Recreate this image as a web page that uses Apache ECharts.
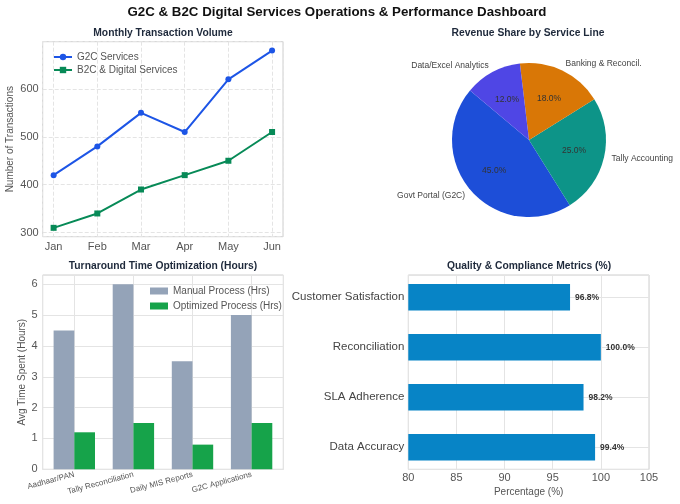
<!DOCTYPE html>
<html>
<head>
<meta charset="utf-8">
<script src="https://cdn.jsdelivr.net/npm/echarts@6/dist/echarts.min.js"></script>
<style>
html, body { margin: 0; padding: 0; background: #fff; }
#main { width: 680px; height: 504px; }
</style>
</head>
<body>
<div id="main"></div>
<script>
// chart data
const months = ["Jan", "Feb", "Mar", "Apr", "May", "Jun"];
const g2cVolume = [420, 480, 550, 510, 620, 680];
const b2cVolume = [310, 340, 390, 420, 450, 510];

const revenueLines = ["Govt Portal (G2C)", "Tally Accounting", "Banking & Reconcil.", "Data/Excel Analytics"];
const revenueShare = [45, 25, 18, 12];
const revenueColors = ["#1d4ed8", "#0d9488", "#d97706", "#4f46e5"];

const tasks = ["Aadhaar/PAN", "Tally Reconciliation", "Daily MIS Reports", "G2C Applications"];
const manualHrs = [4.5, 6, 3.5, 5];
const optimizedHrs = [1.2, 1.5, 0.8, 1.5];

const metrics = ["Data Accuracy", "SLA Adherence", "Reconciliation", "Customer Satisfaction"];
const metricPct = [99.4, 98.2, 100.0, 96.8];

var myChart = echarts.init(document.getElementById("main"), null, { renderer: "canvas" });

const FONT = "Liberation Sans";
const TITLE_COLOR = "#1e293b";
const LABEL_COLOR = "#555";
const FRAME = "#cfcfcf";
const GRIDLINE = "#e4e4e4";

function subTitle(text, x, y) {
	return {
		text: text, left: x, top: y, textAlign: "center", padding: 0,
		textStyle: { fontFamily: FONT, fontSize: 10.3, fontWeight: "bold", color: TITLE_COLOR }
	};
}

// hide labels at the padded ends of the axis
function onlyStep(step, names) {
	return function (v) {
		var k = Math.round(v / step);
		if (Math.abs(v - k * step) > 1e-6) return "";
		return names ? (names[k] || "") : String(v);
	};
}

function hiddenAxis(extra) {
	return Object.assign({
		axisLine: { show: false }, axisTick: { show: false },
		axisLabel: { show: false }, splitLine: { show: false }
	}, extra);
}

var option = {
	animation: false,
	backgroundColor: "#fff",
	textStyle: { fontFamily: FONT },
	title: [
		{
			text: "G2C & B2C Digital Services Operations & Performance Dashboard",
			left: 337, top: 6, textAlign: "center", padding: 0,
			textStyle: { fontFamily: FONT, fontSize: 13.3, fontWeight: "bold", color: "#111" }
		},
		subTitle("Monthly Transaction Volume", 163, 28),
		subTitle("Revenue Share by Service Line", 528, 28),
		subTitle("Turnaround Time Optimization (Hours)", 163, 261),
		subTitle("Quality & Compliance Metrics (%)", 529, 261)
	],
	legend: [
		{
			data: ["G2C Services", "B2C & Digital Services"],
			orient: "vertical", left: 48, top: 47, itemWidth: 18, itemHeight: 8, itemGap: 3,
			textStyle: { fontFamily: FONT, fontSize: 10, color: LABEL_COLOR }
		},
		{
			data: ["Manual Process (Hrs)", "Optimized Process (Hrs)"],
			orient: "vertical", left: 145, top: 281, itemWidth: 18, itemHeight: 7, itemGap: 5,
			icon: "rect",
			textStyle: { fontFamily: FONT, fontSize: 10, color: LABEL_COLOR }
		}
	],
	grid: [
		{ left: 42.7, top: 41.7, width: 240.3, height: 195, show: true, borderColor: FRAME, borderWidth: 1 },
		{ left: 42.7, top: 275, width: 240.6, height: 194.3, show: true, borderColor: FRAME, borderWidth: 1 },
		{ left: 44.75, top: 275, width: 236.4, height: 194.3 },
		{ left: 408.3, top: 275, width: 240.7, height: 194.3, show: true, borderColor: FRAME, borderWidth: 1 },
		{ left: 408.3, top: 272.3, width: 240.7, height: 200 }
	],
	xAxis: [
		{
			gridIndex: 0, type: "value", min: -0.25, max: 5.25,
			axisLine: { show: false }, axisTick: { show: false },
			axisLabel: { formatter: onlyStep(1, months), fontSize: 11, color: LABEL_COLOR, margin: 5 },
			splitLine: { show: true, lineStyle: { color: GRIDLINE, type: "dashed" } }
		},
		hiddenAxis({
			gridIndex: 1, type: "value", min: -0.535, max: 3.535,
			splitLine: { show: true, lineStyle: { color: GRIDLINE } }
		}),
		{
			gridIndex: 2, type: "category", data: tasks,
			axisLine: { show: false }, axisTick: { show: false },
			axisLabel: { rotate: 15, fontSize: 8, color: LABEL_COLOR, margin: 5, interval: 0 }
		},
		{
			gridIndex: 3, type: "value", min: 80, max: 105,
			axisLine: { show: false }, axisTick: { show: false },
			axisLabel: { fontSize: 11, color: LABEL_COLOR, margin: 3 },
			splitLine: { show: true, lineStyle: { color: GRIDLINE } },
			name: "Percentage (%)", nameLocation: "middle", nameGap: 18,
			nameTextStyle: { fontFamily: FONT, fontSize: 10, color: LABEL_COLOR }
		},
		hiddenAxis({ gridIndex: 4, type: "value", min: 80, max: 105 })
	],
	yAxis: [
		{
			gridIndex: 0, type: "value", min: 291.5, max: 698.5,
			axisLine: { show: false }, axisTick: { show: false },
			axisLabel: { formatter: onlyStep(100), fontSize: 11, color: LABEL_COLOR, margin: 4 },
			splitLine: { show: true, lineStyle: { color: GRIDLINE, type: "dashed" } },
			name: "Number of Transactions", nameLocation: "middle", nameGap: 27,
			nameTextStyle: { fontFamily: FONT, fontSize: 10, color: LABEL_COLOR }
		},
		{
			gridIndex: 1, type: "value", min: 0, max: 6.3,
			axisLine: { show: false }, axisTick: { show: false },
			axisLabel: { formatter: onlyStep(1), fontSize: 11, color: LABEL_COLOR, margin: 5 },
			splitLine: { show: true, lineStyle: { color: GRIDLINE } },
			name: "Avg Time Spent (Hours)", nameLocation: "middle", nameGap: 14,
			nameTextStyle: { fontFamily: FONT, fontSize: 10, color: LABEL_COLOR }
		},
		hiddenAxis({ gridIndex: 2, type: "value", min: 0, max: 6.3 }),
		hiddenAxis({
			gridIndex: 3, type: "value", min: -0.44, max: 3.44,
			splitLine: { show: true, lineStyle: { color: GRIDLINE } }
		}),
		{
			gridIndex: 4, type: "category", data: metrics,
			axisLine: { show: false }, axisTick: { show: false },
			axisLabel: { fontSize: 11.5, color: "#444", margin: 4 }
		}
	],
	series: [
		{
			name: "G2C Services", type: "line", xAxisIndex: 0, yAxisIndex: 0,
			data: g2cVolume.map(function (v, i) { return [i, v]; }),
			symbol: "circle", symbolSize: 6,
			lineStyle: { width: 2, color: "#1d55e6" }, itemStyle: { color: "#1d55e6" }
		},
		{
			name: "B2C & Digital Services", type: "line", xAxisIndex: 0, yAxisIndex: 0,
			data: b2cVolume.map(function (v, i) { return [i, v]; }),
			symbol: "rect", symbolSize: 6,
			lineStyle: { width: 2, color: "#078a57" }, itemStyle: { color: "#078a57" }
		},
		{
			type: "pie", center: [529, 140], radius: 77, startAngle: 140, clockwise: false,
			avoidLabelOverlap: false, silent: true,
			data: revenueLines.map(function (n, i) {
				return { name: n, value: revenueShare[i], itemStyle: { color: revenueColors[i] } };
			}),
			itemStyle: { borderWidth: 0 },
			label: {
				position: "outside", formatter: "{b}", distanceToLabelLine: 0,
				fontFamily: FONT, fontSize: 8.5, color: "#444"
			},
			labelLine: { show: false, length: 7.7, length2: 0 }
		},
		{
			// transparent copy, only carries the percentage labels
			type: "pie", center: [529, 140], radius: 86.4, startAngle: 140, clockwise: false,
			avoidLabelOverlap: false, silent: true, z: 5,
			data: revenueLines.map(function (n, i) {
				return { name: n, value: revenueShare[i] };
			}),
			itemStyle: { color: "transparent", borderWidth: 0 },
			label: {
				position: "inside", fontFamily: FONT, fontSize: 8.5, color: "#333",
				formatter: function (p) { return p.percent.toFixed(1) + "%"; }
			},
			labelLine: { show: false }
		},
		{
			name: "Manual Process (Hrs)", type: "bar", xAxisIndex: 2, yAxisIndex: 2,
			data: manualHrs, barWidth: 20.7, barGap: "0%",
			itemStyle: { color: "#94a3b8" }
		},
		{
			name: "Optimized Process (Hrs)", type: "bar", xAxisIndex: 2, yAxisIndex: 2,
			data: optimizedHrs, barWidth: 20.7, barGap: "0%",
			itemStyle: { color: "#16a34a" }
		},
		{
			type: "bar", xAxisIndex: 4, yAxisIndex: 4,
			data: metricPct, barWidth: 26.5,
			itemStyle: { color: "#0784c6" },
			label: {
				show: true, position: "right", distance: 5,
				fontFamily: FONT, fontSize: 8.5, fontWeight: "bold", color: "#333",
				formatter: function (p) { return p.value.toFixed(1) + "%"; }
			}
		}
	]
};

myChart.setOption(option);
</script>
</body>
</html>
